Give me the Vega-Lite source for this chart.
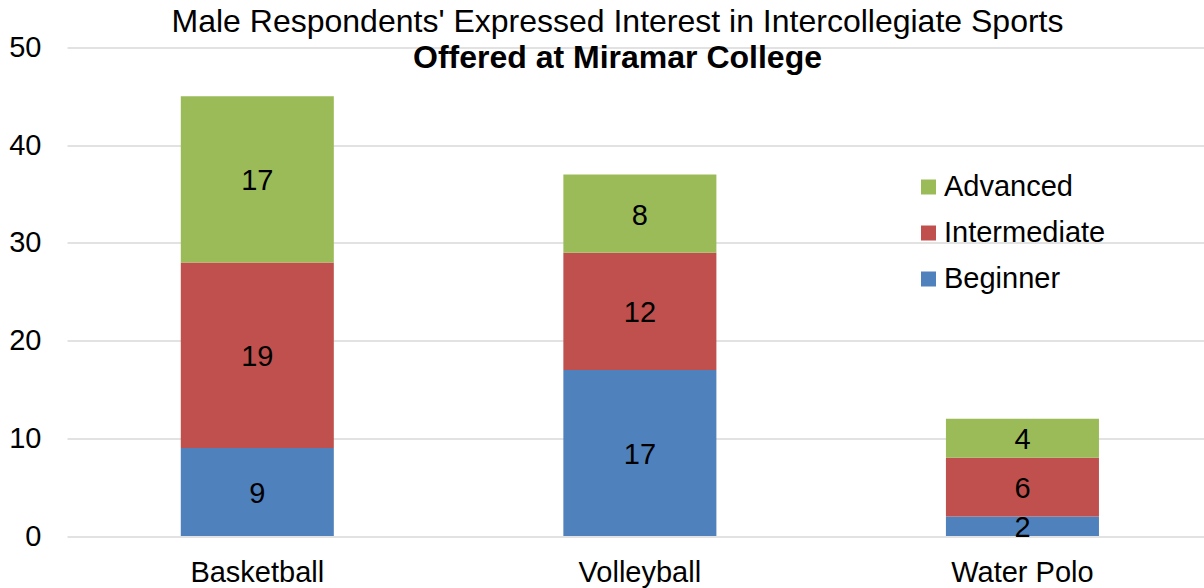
{
  "$schema": "https://vega.github.io/schema/vega-lite/v6.json",
  "width": 1137,
  "height": 488.5,
  "autosize": {"type": "none"},
  "padding": {"left": 67, "top": 47.5, "right": 0, "bottom": 52},
  "background": "white",
  "config": {
    "font": "Liberation Sans",
    "view": {"stroke": null},
    "title": {"font": "Liberation Sans", "color": "black", "subtitleFont": "Liberation Sans", "subtitleColor": "black"}
  },
  "title": {
    "text": "Male Respondents' Expressed Interest in Intercollegiate Sports",
    "subtitle": "Offered at Miramar College",
    "fontSize": 32,
    "fontWeight": "normal",
    "subtitleFontSize": 32,
    "subtitleFontWeight": "bold",
    "subtitlePadding": 4,
    "anchor": "middle",
    "dx": -18,
    "offset": -41
  },
  "data": {
    "values": [
      {"sport": "Basketball", "level": "Beginner", "value": 9},
      {"sport": "Basketball", "level": "Intermediate", "value": 19},
      {"sport": "Basketball", "level": "Advanced", "value": 17},
      {"sport": "Volleyball", "level": "Beginner", "value": 17},
      {"sport": "Volleyball", "level": "Intermediate", "value": 12},
      {"sport": "Volleyball", "level": "Advanced", "value": 8},
      {"sport": "Water Polo", "level": "Beginner", "value": 2},
      {"sport": "Water Polo", "level": "Intermediate", "value": 6},
      {"sport": "Water Polo", "level": "Advanced", "value": 4}
    ]
  },
  "transform": [
    {"calculate": "indexof(['Beginner','Intermediate','Advanced'], datum.level)", "as": "stackRank"},
    {"stack": "value", "groupby": ["sport"], "sort": [{"field": "stackRank", "order": "ascending"}], "as": ["v0", "v1"]},
    {"calculate": "(datum.v0 + datum.v1) / 2", "as": "vmid"}
  ],
  "encoding": {
    "x": {
      "field": "sport",
      "type": "nominal",
      "sort": ["Basketball", "Volleyball", "Water Polo"],
      "scale": {"paddingInner": 0.6, "paddingOuter": 0.286, "align": 0.52},
      "axis": {"title": null, "labelAngle": 0, "domain": false, "ticks": false, "labelFontSize": 29, "labelColor": "black", "labelPadding": 22, "labelFont": "Liberation Sans"}
    }
  },
  "layer": [
    {
      "mark": {"type": "bar"},
      "encoding": {
        "y": {
          "field": "v0",
          "type": "quantitative",
          "scale": {"domain": [0, 50], "nice": false},
          "axis": {"title": null, "values": [0, 10, 20, 30, 40, 50], "domain": false, "ticks": false, "gridColor": "#D9D9D9", "gridWidth": 1.5, "labelFontSize": 29, "labelColor": "black", "labelPadding": 26, "labelFont": "Liberation Sans"}
        },
        "y2": {"field": "v1"},
        "color": {
          "field": "level",
          "type": "nominal",
          "scale": {"domain": ["Advanced", "Intermediate", "Beginner"], "range": ["#9BBB59", "#C0504D", "#4F81BD"]},
          "legend": {"title": null, "orient": "none", "legendX": 847, "legendY": 125, "symbolType": "square", "symbolSize": 225, "symbolStrokeWidth": 0, "labelFontSize": 29, "labelColor": "black", "labelFont": "Liberation Sans", "labelOffset": 1, "labelLimit": 300, "rowPadding": 16, "padding": 0}
        }
      }
    },
    {
      "mark": {"type": "text", "fontSize": 29, "color": "black", "font": "Liberation Sans", "baseline": "middle", "dy": 2},
      "encoding": {
        "y": {"field": "vmid", "type": "quantitative"},
        "text": {"field": "value", "type": "quantitative"}
      }
    }
  ]
}
